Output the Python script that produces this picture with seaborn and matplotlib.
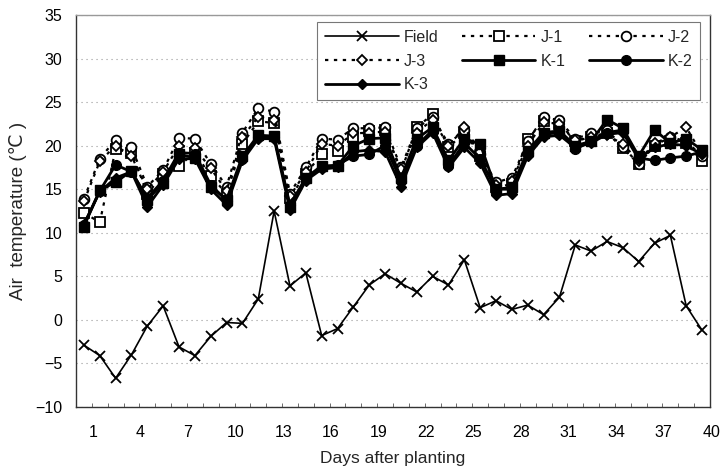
import numpy as np
import pandas as pd
import seaborn as sns
import matplotlib
matplotlib.use("Agg")
import matplotlib.pyplot as plt
from matplotlib.transforms import ScaledTranslation

days = list(range(1, 41))

field = [-2.9, -4.1, -6.7, -4.0, -0.7, 1.6, -3.1, -4.1, -1.9, -0.3,
         -0.4, 2.4, 12.5, 3.9, 5.4, -1.8, -1.0, 1.5, 4.0, 5.3,
         4.2, 3.2, 5.0, 4.0, 6.9, 1.4, 2.2, 1.2, 1.7, 0.6,
         2.6, 8.6, 7.9, 9.0, 8.3, 6.7, 8.8, 9.7, 1.6, -1.2]

j1 = [12.3, 11.2, 19.6, 19.2, 14.5, 16.7, 17.7, 19.2, 16.5, 14.5,
      20.2, 22.8, 22.6, 14.0, 16.8, 19.0, 19.4, 21.0, 21.7, 21.8,
      17.0, 22.1, 23.6, 19.8, 21.5, 18.8, 15.2, 15.6, 20.8, 22.8,
      22.5, 20.5, 21.0, 21.5, 19.7, 17.9, 20.0, 20.5, 20.3, 18.2]

j2 = [13.9, 18.5, 20.7, 19.8, 15.3, 17.2, 20.9, 20.8, 17.9, 15.3,
      21.5, 24.3, 23.9, 14.5, 17.5, 20.8, 20.7, 22.0, 22.0, 22.1,
      17.5, 22.0, 23.3, 20.2, 21.8, 19.0, 15.8, 16.3, 20.5, 23.3,
      22.9, 20.8, 21.4, 21.8, 19.9, 17.9, 20.0, 21.0, 20.5, 18.8]

j3 = [13.6, 18.2, 20.0, 18.8, 15.0, 17.0, 20.0, 19.7, 17.4, 14.8,
      21.0, 23.3, 23.0, 14.2, 17.0, 20.2, 20.0, 21.4, 21.5, 21.6,
      17.3, 21.5, 23.0, 20.0, 22.1, 19.3, 15.5, 16.0, 20.0, 22.7,
      22.5, 20.6, 21.0, 21.2, 20.2, 18.2, 20.3, 21.0, 22.1, 19.0]

k1 = [10.7, 14.9, 15.8, 17.1, 13.8, 15.7, 19.0, 18.6, 15.3, 13.8,
      18.8, 21.2, 21.1, 13.0, 16.3, 17.7, 17.7, 20.0, 20.8, 20.9,
      16.3, 20.8, 22.1, 18.3, 20.8, 20.2, 15.0, 15.2, 19.4, 21.5,
      21.7, 20.0, 20.5, 23.0, 22.0, 18.8, 21.8, 20.3, 20.8, 19.5]

k2 = [10.9, 14.8, 17.8, 17.0, 14.0, 16.0, 19.2, 19.1, 15.5, 13.7,
      18.5, 21.0, 21.0, 13.2, 16.3, 17.5, 17.8, 18.8, 19.0, 20.0,
      16.0, 20.0, 21.8, 17.7, 20.3, 18.5, 15.0, 15.0, 19.2, 21.3,
      21.5, 19.6, 20.5, 21.5, 21.8, 18.6, 18.3, 18.6, 18.8, 19.3]

k3 = [11.0, 14.7, 16.3, 17.0, 13.0, 15.5, 18.5, 18.5, 15.0, 13.2,
      18.3, 20.8, 20.8, 12.6, 16.0, 17.3, 17.5, 19.3, 19.5, 19.3,
      15.3, 19.8, 21.5, 17.5, 19.8, 18.0, 14.3, 14.5, 18.8, 21.0,
      21.2, 19.8, 20.3, 21.3, 21.5, 18.5, 19.8, 20.2, 20.0, 19.0]

xtick_vals = list(range(1, 41, 3))
ytick_vals = list(range(-10, 36, 5))

sns.set_theme(style="white")
plt.rcParams["font.family"] = ["Liberation Sans", "DejaVu Sans"]
narrow = ["Liberation Sans Narrow", "Liberation Sans", "DejaVu Sans"]

fig = plt.figure(figsize=(7.23, 4.69), dpi=100)
ax = fig.add_axes([76 / 723, 1 - 407 / 469, (710 - 76) / 723, (407 - 15) / 469])

dot = (0, (1.5, 2.5))
styles = [
    ("Field", field, dict(marker="x", linestyle="-", linewidth=1.2, markersize=7,
                          markeredgewidth=1.3, markerfacecolor="black")),
    ("J-1", j1, dict(marker="s", linestyle=dot, linewidth=1.6, markersize=6.8,
                     markeredgewidth=1.3, markerfacecolor="white")),
    ("J-2", j2, dict(marker="o", linestyle=dot, linewidth=1.6, markersize=7,
                     markeredgewidth=1.3, markerfacecolor="white")),
    ("J-3", j3, dict(marker="D", linestyle=dot, linewidth=1.6, markersize=5.5,
                     markeredgewidth=1.3, markerfacecolor="white")),
    ("K-1", k1, dict(marker="s", linestyle="-", linewidth=2.0, markersize=7,
                     markeredgewidth=1.0, markerfacecolor="black")),
    ("K-2", k2, dict(marker="o", linestyle="-", linewidth=2.0, markersize=7,
                     markeredgewidth=1.0, markerfacecolor="black")),
    ("K-3", k3, dict(marker="D", linestyle="-", linewidth=2.0, markersize=5.5,
                     markeredgewidth=1.0, markerfacecolor="black")),
]

handles = {}
for name, vals, kw in styles:
    df = pd.DataFrame({"day": days, "temp": vals})
    sns.lineplot(data=df, x="day", y="temp", ax=ax, color="black",
                 markeredgecolor="black", label=name, **kw)
    handles[name] = ax.get_lines()[-1]

ax.set_xlim(0.5, 40.5)
ax.set_ylim(-10, 35)
ax.set_yticks(ytick_vals)
ax.set_xticks(xtick_vals)
ax.set_xticklabels([str(v) for v in xtick_vals])
ax.set_xticks(np.arange(0.5, 41, 1), minor=True)

ax.yaxis.grid(True, linestyle=(0, (1, 3.5)), color="#999999", linewidth=0.8)
ax.xaxis.grid(False)
ax.set_axisbelow(True)

for s in ax.spines.values():
    s.set_color("#333333")
    s.set_linewidth(1.0)
ax.spines["top"].set_color("#999999")
ax.spines["top"].set_linestyle((0, (1, 1)))

ax.tick_params(axis="x", which="major", length=0, pad=13, labelsize=11.5, colors="black")
ax.tick_params(axis="x", which="minor", direction="in", length=3, width=0.6, color="#555555", bottom=True)
ax.tick_params(axis="y", which="major", length=0, pad=10, labelsize=11.5, colors="black")

for lab in ax.get_xticklabels() + ax.get_yticklabels():
    lab.set_family(narrow)

offset = ScaledTranslation(9 / 100, 0, fig.dpi_scale_trans)
for lab in ax.get_xticklabels():
    lab.set_transform(lab.get_transform() + offset)

ax.set_xlabel("Days after planting", fontsize=12.5, labelpad=8)
ax.set_ylabel("Air  temperature (\u2103 )", fontsize=13.5, labelpad=6)

order = ["Field", "J-3", "K-3", "J-1", "K-1", "J-2", "K-2"]
leg = ax.legend([handles[n] for n in order], order, ncol=3, loc="upper right",
                bbox_to_anchor=(0.997, 1.003), fontsize=11.5, frameon=True,
                fancybox=False, framealpha=1, edgecolor="#777777",
                handlelength=4.6, columnspacing=1.5, labelspacing=0.55,
                handletextpad=0.3, borderpad=0.5)
leg.get_frame().set_linewidth(0.8)

fig.savefig("out.png", dpi=100)
